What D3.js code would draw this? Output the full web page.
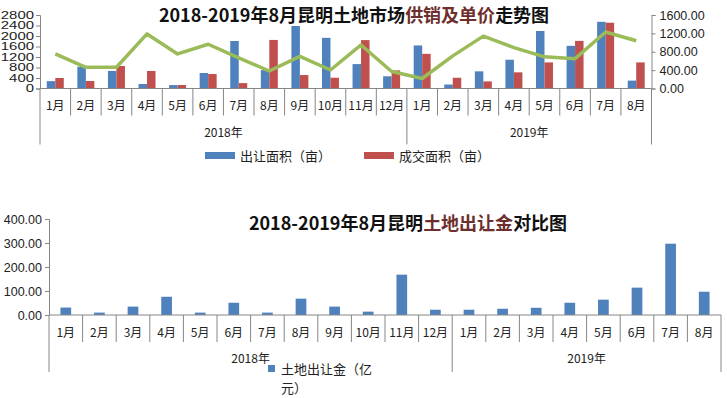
<!DOCTYPE html>
<html>
<head>
<meta charset="utf-8">
<script src="https://cdn.jsdelivr.net/npm/d3@7"></script>
<style>
  body { margin: 0; background: #fff; }
  text { font-family: "Liberation Sans", "Noto Sans CJK SC", sans-serif; fill: #222; }
  .cjk { font-family: "Noto Sans CJK SC", sans-serif; }
</style>
</head>
<body>
<svg id="chart" width="727" height="398"></svg>
<script>
// month categories, 2018-01 .. 2019-08
const months = ['1月','2月','3月','4月','5月','6月','7月','8月','9月','10月','11月','12月',
                '1月','2月','3月','4月','5月','6月','7月','8月']
const yearGroups = [['2018年', 12], ['2019年', 8]]

// top chart: areas (亩) and unit price
const supplyArea = [280, 830, 670, 170, 130, 590, 1810, 700, 2380, 1930, 930, 465,
                    1640, 150, 654, 1096, 2190, 1625, 2540, 300]
const dealArea   = [400, 285, 857, 667, 133, 552, 205, 1850, 513, 411, 1843, 690,
                    1320, 410, 270, 616, 994, 1814, 2506, 994]
const unitPrice  = [752, 462, 462, 1188, 752, 963, 665, 381, 700, 403, 948, 370,
                    218, 710, 1140, 890, 690, 650, 1230, 1040]
const areaTicks  = [0, 400, 800, 1200, 1600, 2000, 2400, 2800]
const priceTicks = [0, 400, 800, 1200, 1600]

// bottom chart: land transfer fee (亿元)
const transferFee = [31, 10, 35, 76, 10, 51, 10, 68, 35, 14, 168, 22,
                     22, 26, 30, 51, 64, 114, 297, 97]
const feeTicks = [0, 100, 200, 300, 400]

const blue = '#4f81bd', red = '#c0504d', green = '#9bbb59', axisCol = '#868686'
const titleRed = '#6e2f2c'

const svg = d3.select('#chart')
const idx = d3.range(months.length)

// draws the two level category axis (months + years)
function catAxis (g, x, y0, shortLen, longLen, monthY, yearY) {
  g.append('line').attr('x1', x.range()[0]).attr('x2', x.range()[1])
    .attr('y1', y0).attr('y2', y0).attr('stroke', axisCol)
  let bounds = idx.map(i => x(i)).concat([x.range()[1]])
  let longOnes = [0]
  let acc = 0
  yearGroups.forEach(d => { acc += d[1]; longOnes.push(acc) })
  bounds.forEach((bx, i) => {
    let isLong = longOnes.indexOf(i) >= 0
    g.append('line').attr('x1', bx).attr('x2', bx)
      .attr('y1', y0).attr('y2', y0 + (isLong ? longLen : shortLen))
      .attr('stroke', axisCol)
  })
  g.selectAll('.mlab').data(months).enter().append('text')
    .attr('class', 'cjk')
    .attr('x', (d, i) => x(i) + x.bandwidth() / 2)
    .attr('y', monthY)
    .attr('text-anchor', 'middle')
    .attr('dominant-baseline', 'central')
    .style('font-size', '12px')
    .text(d => d)
  let start = 0
  yearGroups.forEach(d => {
    let cx = (x(start) + (start + d[1] < months.length ? x(start + d[1]) : x.range()[1])) / 2
    g.append('text').attr('class', 'cjk')
      .attr('x', cx).attr('y', yearY)
      .attr('text-anchor', 'middle').attr('dominant-baseline', 'central')
      .style('font-size', '12px').text(d[0])
    start += d[1]
  })
}

function title (parts, cx, cy) {
  let t = svg.append('text').attr('class', 'cjk')
    .attr('x', cx).attr('y', cy)
    .attr('text-anchor', 'middle').attr('dominant-baseline', 'central')
    .style('font-size', '18px').style('font-weight', 'bold')
  parts.forEach(p => {
    t.append('tspan').text(p[0]).style('fill', p[1] ? titleRed : '#111')
  })
}

// ---------- top chart ----------
const topG = svg.append('g')
const x1 = d3.scaleBand().domain(idx).range([40, 651.5])
const sub = d3.scaleBand().domain(['s', 'd']).range([0, x1.bandwidth()])
  .paddingInner(0).paddingOuter(0.8)
const yArea = d3.scaleLinear().domain([0, 2800]).range([88.5, 15])
const yPrice = d3.scaleLinear().domain([0, 1600]).range([88.5, 15])

title([['2018-2019年8月昆明土地市场'], ['供销及单价', true], ['走势图']], 354, 14)

topG.selectAll('.sb').data(supplyArea).enter().append('rect')
  .attr('x', (d, i) => x1(i) + sub('s')).attr('width', sub.bandwidth())
  .attr('y', d => yArea(d)).attr('height', d => yArea(0) - yArea(d))
  .attr('fill', blue)
topG.selectAll('.db').data(dealArea).enter().append('rect')
  .attr('x', (d, i) => x1(i) + sub('d')).attr('width', sub.bandwidth())
  .attr('y', d => yArea(d)).attr('height', d => yArea(0) - yArea(d))
  .attr('fill', red)

topG.append('path').datum(unitPrice)
  .attr('d', d3.line().x((d, i) => x1(i) + x1.bandwidth() / 2).y(d => yPrice(d)))
  .attr('fill', 'none').attr('stroke', green).attr('stroke-width', 3.5)
  .attr('stroke-linejoin', 'round')

// left labels are packed tight in the original, so they get a small stretched font
let la = topG.append('g').attr('transform', 'translate(40,0)')
  .call(d3.axisLeft(yArea).tickValues(areaTicks).tickSize(4).tickPadding(2)
    .tickFormat(d3.format('d')))
la.select('.domain').attr('stroke', axisCol)
la.selectAll('line').attr('stroke', axisCol)
la.selectAll('text').style('font-size', '10.5px').attr('fill', '#222')
  .attr('textLength', d => String(d).length * 8.3)
  .attr('lengthAdjust', 'spacingAndGlyphs')

let ra = topG.append('g').attr('transform', 'translate(651.5,0)')
  .call(d3.axisRight(yPrice).tickValues(priceTicks).tickSize(4).tickPadding(4)
    .tickFormat(d3.format('.2f')))
ra.select('.domain').attr('stroke', axisCol)
ra.selectAll('line').attr('stroke', axisCol)
ra.selectAll('text').style('font-size', '12.5px').attr('fill', '#222')

catAxis(topG, x1, 88.5, 27, 56, 104, 131)

// legend top
const leg1 = [['出让面积（亩）', blue, 205], ['成交面积（亩）', red, 364]]
leg1.forEach(d => {
  topG.append('rect').attr('x', d[2]).attr('y', 152).attr('width', 30).attr('height', 7).attr('fill', d[1])
  topG.append('text').attr('class', 'cjk').attr('x', d[2] + 35).attr('y', 155.5)
    .attr('dominant-baseline', 'central').style('font-size', '13px').text(d[0])
})

// ---------- bottom chart ----------
const botG = svg.append('g')
const x2 = d3.scaleBand().domain(idx).range([49, 721])
const barPad = (x2.bandwidth() - 10.7) / 2
const yFee = d3.scaleLinear().domain([0, 400]).range([315, 219])

title([['2018-2019年8月昆明'], ['土地出让金', true], ['对比图']], 408, 222)

botG.selectAll('.fb').data(transferFee).enter().append('rect')
  .attr('x', (d, i) => x2(i) + barPad).attr('width', x2.bandwidth() - 2 * barPad)
  .attr('y', d => yFee(d)).attr('height', d => yFee(0) - yFee(d))
  .attr('fill', blue)

let fa = botG.append('g').attr('transform', 'translate(49,0)')
  .call(d3.axisLeft(yFee).tickValues(feeTicks).tickSize(4).tickPadding(3)
    .tickFormat(d3.format('.2f')))
fa.select('.domain').attr('stroke', axisCol)
fa.selectAll('line').attr('stroke', axisCol)
fa.selectAll('text').style('font-size', '12.5px').attr('fill', '#222')

catAxis(botG, x2, 315, 27, 57, 331, 357)

// legend text wraps onto two lines in the original
botG.append('rect').attr('x', 268).attr('y', 365).attr('width', 7).attr('height', 7).attr('fill', blue)
botG.append('text').attr('class', 'cjk').attr('x', 281).attr('y', 368.5)
  .attr('dominant-baseline', 'central').style('font-size', '13px').text('土地出让金（亿')
botG.append('text').attr('class', 'cjk').attr('x', 281).attr('y', 387.5)
  .attr('dominant-baseline', 'central').style('font-size', '13px').text('元）')
</script>
</body>
</html>
